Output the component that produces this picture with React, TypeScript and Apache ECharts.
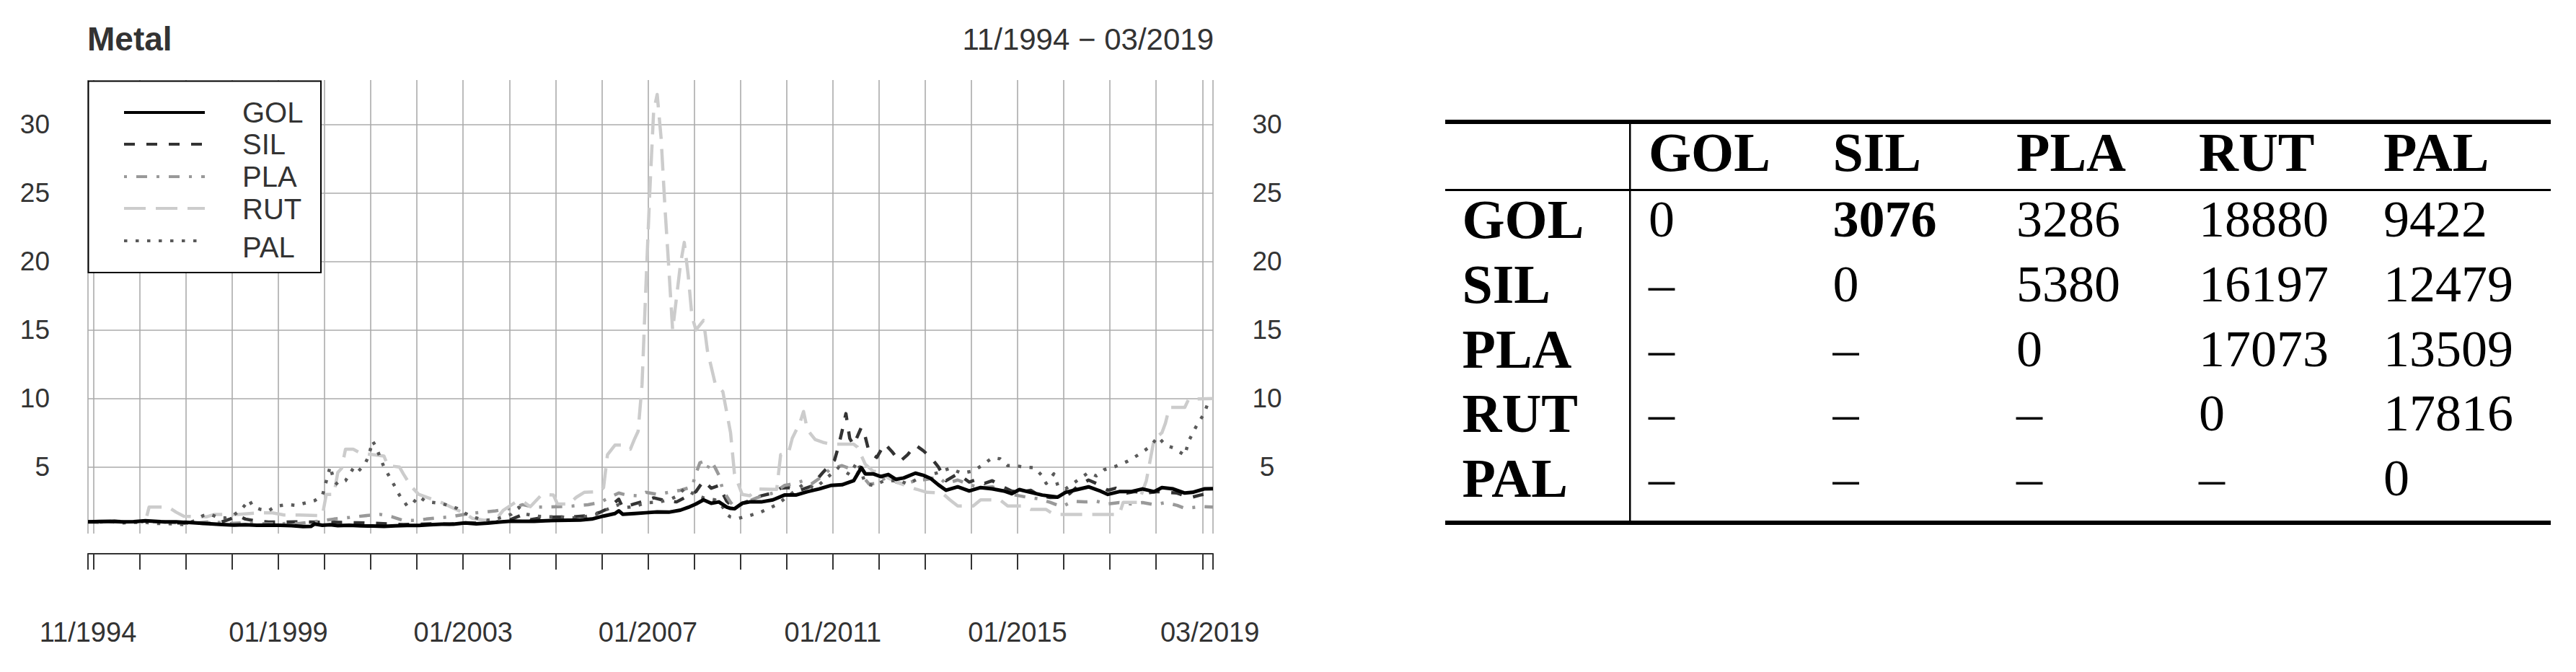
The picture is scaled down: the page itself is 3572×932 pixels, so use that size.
import React, { useEffect, useRef } from 'react';
import * as echarts from 'echarts';

// ---------------- DATA ----------------
const TITLE = 'Metal';
const SUBTITLE = '11/1994 − 03/2019';
const SERIES_NAMES = ['GOL', 'SIL', 'PLA', 'RUT', 'PAL'];
const X_START = '1994-11-18';
const X_END = '2019-03-26';
const X_TICK_LABELS = ['11/1994', '01/1999', '01/2003', '01/2007', '01/2011', '01/2015', '03/2019'];
const Y_TICKS = [5, 10, 15, 20, 25, 30];

const GOL: [string, number][] = [
  ['1994-11-18', 1.0], ['1995-02', 1.02], ['1995-05', 1.03], ['1995-08', 1.0], ['1995-11', 1.01], ['1996-02', 1.08],
  ['1996-06', 1.01], ['1996-10', 0.99], ['1997-01', 0.95], ['1997-04', 0.9], ['1997-07', 0.85], ['1997-10', 0.8],
  ['1998-01', 0.76], ['1998-04', 0.78], ['1998-07', 0.75], ['1998-10', 0.76], ['1999-01', 0.74], ['1999-04', 0.72],
  ['1999-07', 0.65], ['1999-09', 0.66], ['1999-10', 0.84], ['1999-12', 0.75], ['2000-02', 0.78], ['2000-04', 0.72],
  ['2000-07', 0.74], ['2000-10', 0.7], ['2001-01', 0.69], ['2001-04', 0.67], ['2001-07', 0.7], ['2001-10', 0.73],
  ['2002-01', 0.73], ['2002-04', 0.78], ['2002-07', 0.82], ['2002-10', 0.83], ['2003-01', 0.92], ['2003-04', 0.85],
  ['2003-07', 0.9], ['2003-10', 0.98], ['2004-01', 1.05], ['2004-04', 1.03], ['2004-07', 1.03], ['2004-10', 1.08],
  ['2005-01', 1.1], ['2005-04', 1.12], ['2005-07', 1.13], ['2005-10', 1.2], ['2006-01', 1.42], ['2006-04', 1.6],
  ['2006-05', 1.8], ['2006-06', 1.55], ['2006-09', 1.6], ['2006-12', 1.66], ['2007-03', 1.72], ['2007-06', 1.7],
  ['2007-09', 1.85], ['2007-11', 2.05], ['2008-01', 2.3], ['2008-03', 2.6], ['2008-05', 2.35], ['2008-07', 2.45],
  ['2008-09', 2.07], ['2008-10', 1.98], ['2008-11', 1.95], ['2009-01', 2.35], ['2009-03', 2.45], ['2009-06', 2.45],
  ['2009-09', 2.6], ['2009-12', 2.95], ['2010-03', 2.95], ['2010-06', 3.2], ['2010-09', 3.4], ['2010-12', 3.65],
  ['2011-03', 3.7], ['2011-06', 4.0], ['2011-08', 4.95], ['2011-09', 4.5], ['2011-11', 4.5], ['2012-01', 4.3],
  ['2012-03', 4.45], ['2012-05', 4.1], ['2012-07', 4.2], ['2012-10', 4.55], ['2012-12', 4.4], ['2013-02', 4.15],
  ['2013-04', 3.7], ['2013-06', 3.3], ['2013-09', 3.55], ['2013-12', 3.25], ['2014-03', 3.5], ['2014-06', 3.4],
  ['2014-09', 3.25], ['2014-11', 3.05], ['2015-01', 3.35], ['2015-04', 3.15], ['2015-07', 2.95], ['2015-11', 2.8],
  ['2016-01', 3.15], ['2016-04', 3.35], ['2016-07', 3.55], ['2016-10', 3.25], ['2016-12', 3.0], ['2017-03', 3.2],
  ['2017-06', 3.2], ['2017-09', 3.4], ['2017-12', 3.2], ['2018-02', 3.5], ['2018-05', 3.4], ['2018-08', 3.1],
  ['2018-10', 3.15], ['2019-01', 3.4], ['2019-03-26', 3.42],
];

const SIL: [string, number][] = [
  ['1994-11-18', 1.0], ['1995-03', 0.95], ['1995-06', 1.05], ['1995-09', 1.0], ['1996-01', 1.0], ['1996-05', 1.02],
  ['1996-09', 0.93], ['1997-01', 0.9], ['1997-05', 0.88], ['1997-09', 0.9], ['1997-12', 1.2], ['1998-02', 1.45],
  ['1998-04', 1.2], ['1998-07', 1.05], ['1998-10', 0.98], ['1999-01', 0.98], ['1999-05', 1.0], ['1999-09', 0.98],
  ['2000-01', 0.97], ['2000-05', 0.95], ['2000-09', 0.93], ['2001-01', 0.9], ['2001-05', 0.85], ['2001-09', 0.8],
  ['2002-01', 0.82], ['2002-05', 0.86], ['2002-09', 0.82], ['2003-01', 0.93], ['2003-05', 0.9], ['2003-09', 0.97],
  ['2004-01', 1.18], ['2004-04', 1.52], ['2004-06', 1.15], ['2004-09', 1.3], ['2005-01', 1.35], ['2005-05', 1.35],
  ['2005-09', 1.45], ['2005-12', 1.68], ['2006-02', 1.95], ['2006-05', 2.65], ['2006-06', 2.05], ['2006-09', 2.3],
  ['2006-12', 2.55], ['2007-02', 2.75], ['2007-05', 2.55], ['2007-08', 2.45], ['2007-10', 2.75], ['2008-01', 3.2],
  ['2008-03', 4.0], ['2008-05', 3.45], ['2008-07', 3.65], ['2008-09', 2.5], ['2008-11', 1.98], ['2009-01', 2.35],
  ['2009-03', 2.55], ['2009-06', 2.9], ['2009-09', 3.1], ['2009-11', 3.45], ['2010-01', 3.5], ['2010-04', 3.3],
  ['2010-07', 3.6], ['2010-10', 4.6], ['2011-01', 5.5], ['2011-02', 6.5], ['2011-03', 7.6], ['2011-04', 8.9],
  ['2011-05', 7.1], ['2011-06', 6.6], ['2011-08', 7.9], ['2011-09', 7.2], ['2011-10', 6.1], ['2011-12', 5.7],
  ['2012-02', 6.7], ['2012-04', 6.1], ['2012-06', 5.4], ['2012-08', 5.9], ['2012-10', 6.6], ['2012-12', 6.2],
  ['2013-02', 5.7], ['2013-04', 5.0], ['2013-06', 4.0], ['2013-09', 4.5], ['2013-12', 3.9], ['2014-02', 4.1],
  ['2014-04', 3.8], ['2014-06', 4.0], ['2014-08', 3.65], ['2014-11', 3.25], ['2015-01', 3.15], ['2015-04', 3.3],
  ['2015-06', 2.95], ['2015-09', 2.77], ['2015-12', 2.8], ['2016-02', 3.05], ['2016-04', 3.55], ['2016-07', 4.05],
  ['2016-09', 3.8], ['2016-12', 3.3], ['2017-02', 3.45], ['2017-05', 3.1], ['2017-07', 3.2], ['2017-10', 3.1],
  ['2018-01', 3.2], ['2018-03', 3.15], ['2018-06', 3.1], ['2018-08', 2.9], ['2018-10', 2.8], ['2018-12', 2.95],
  ['2019-02', 3.05], ['2019-03-26', 2.95],
];

const PLA: [string, number][] = [
  ['1994-11-18', 1.0], ['1995-03', 0.98], ['1995-07', 1.03], ['1995-11', 1.0], ['1996-03', 1.02], ['1996-07', 0.97],
  ['1996-11', 0.92], ['1997-03', 0.9], ['1997-06', 0.98], ['1997-09', 0.95], ['1997-12', 0.88], ['1998-03', 0.92],
  ['1998-06', 0.9], ['1998-09', 0.85], ['1998-12', 0.85], ['1999-03', 0.88], ['1999-06', 0.88], ['1999-09', 0.98],
  ['1999-12', 1.08], ['2000-03', 1.2], ['2000-06', 1.28], ['2000-09', 1.38], ['2000-12', 1.47], ['2001-03', 1.54],
  ['2001-06', 1.37], ['2001-09', 1.1], ['2001-12', 1.1], ['2002-03', 1.2], ['2002-06', 1.28], ['2002-09', 1.36],
  ['2002-12', 1.5], ['2003-03', 1.63], ['2003-06', 1.7], ['2003-09', 1.8], ['2004-01', 1.98], ['2004-04', 2.25],
  ['2004-07', 2.07], ['2004-10', 2.08], ['2005-01', 2.1], ['2005-05', 2.15], ['2005-09', 2.25], ['2005-12', 2.4],
  ['2006-02', 2.7], ['2006-05', 3.1], ['2006-07', 2.95], ['2006-10', 2.9], ['2006-12', 3.15], ['2007-03', 3.0],
  ['2007-06', 3.15], ['2007-09', 3.3], ['2007-12', 3.55], ['2008-01', 4.5], ['2008-02', 5.3], ['2008-03', 5.4],
  ['2008-04', 4.9], ['2008-05', 5.4], ['2008-06', 4.95], ['2008-07', 4.4], ['2008-08', 3.3], ['2008-10', 2.42],
  ['2008-11', 2.07], ['2008-12', 2.15], ['2009-02', 2.42], ['2009-05', 2.77], ['2009-09', 3.1], ['2009-12', 3.65],
  ['2010-02', 3.75], ['2010-05', 4.0], ['2010-07', 3.75], ['2010-10', 4.35], ['2010-12', 4.88], ['2011-03', 5.1],
  ['2011-05', 4.88], ['2011-08', 4.44], ['2011-10', 3.75], ['2011-12', 3.8], ['2012-03', 4.35], ['2012-05', 3.9],
  ['2012-07', 3.74], ['2012-10', 4.0], ['2013-01', 4.1], ['2013-04', 4.26], ['2013-06', 3.8], ['2013-09', 4.05],
  ['2013-12', 3.7], ['2014-03', 3.5], ['2014-06', 3.55], ['2014-09', 3.3], ['2014-12', 2.95], ['2015-03', 2.8],
  ['2015-06', 2.68], ['2015-09', 2.42], ['2015-12', 2.1], ['2016-03', 2.5], ['2016-06', 2.45], ['2016-09', 2.5],
  ['2016-12', 2.3], ['2017-03', 2.4], ['2017-06', 2.3], ['2017-09', 2.4], ['2017-12', 2.25], ['2018-03', 2.4],
  ['2018-06', 2.2], ['2018-08', 1.98], ['2018-11', 2.07], ['2019-01', 2.1], ['2019-03-26', 2.07],
];

const RUT: [string, number][] = [
  ['1994-11-18', 1.0], ['1996-02', 1.0], ['1996-03', 2.07], ['1996-08', 2.07], ['1996-10', 1.7], ['1996-12', 1.4],
  ['1997-06', 1.37], ['1997-08', 1.54], ['1998-02', 1.54], ['1998-07', 1.65], ['1998-11', 1.65], ['1999-02', 1.5],
  ['1999-06', 1.5], ['1999-12', 1.45], ['2000-01', 3.0], ['2000-03', 3.0], ['2000-04', 4.6], ['2000-05', 4.9],
  ['2000-06', 6.3], ['2000-08', 6.3], ['2000-10', 6.0], ['2001-01', 5.9], ['2001-04', 5.8], ['2001-05', 5.1],
  ['2001-08', 5.0], ['2001-09', 4.5], ['2001-11', 3.6], ['2002-01', 3.0], ['2002-04', 2.7], ['2002-07', 2.4],
  ['2002-10', 2.0], ['2003-01', 1.6], ['2003-03', 1.25], ['2003-06', 1.12], ['2003-09', 1.15], ['2003-11', 1.85],
  ['2004-02', 2.4], ['2004-04', 2.5], ['2004-06', 2.1], ['2004-09', 3.0], ['2004-12', 2.95], ['2005-01', 2.3],
  ['2005-04', 2.3], ['2005-06', 2.8], ['2005-08', 3.15], ['2005-12', 3.2], ['2006-01', 3.5], ['2006-02', 5.9],
  ['2006-04', 6.6], ['2006-06', 6.6], ['2006-08', 6.3], ['2006-09', 7.0], ['2006-10', 7.6], ['2006-11', 11.0],
  ['2006-12', 18.0], ['2007-01', 25.0], ['2007-02', 31.0], ['2007-03', 32.2], ['2007-04', 29.0], ['2007-05', 24.0],
  ['2007-06', 19.5], ['2007-07', 15.0], ['2007-08', 17.4], ['2007-09', 19.8], ['2007-10', 21.4], ['2007-11', 19.0],
  ['2007-12', 16.0], ['2008-01', 15.0], ['2008-03', 15.7], ['2008-04', 13.5], ['2008-06', 11.1], ['2008-08', 10.5],
  ['2008-10', 7.5], ['2008-11', 4.5], ['2009-01', 3.0], ['2009-03', 2.9], ['2009-05', 3.4], ['2009-10', 3.36],
  ['2009-11', 5.9], ['2010-01', 6.0], ['2010-02', 7.1], ['2010-04', 8.2], ['2010-05', 9.05], ['2010-06', 7.7],
  ['2010-08', 7.0], ['2010-10', 6.8], ['2010-12', 6.67], ['2011-06', 6.67], ['2011-07', 6.45], ['2011-09', 5.2],
  ['2011-11', 4.7], ['2012-01', 4.6], ['2012-03', 4.2], ['2012-06', 3.8], ['2012-10', 3.4], ['2013-01', 3.15],
  ['2013-05', 3.1], ['2013-07', 2.6], ['2013-09', 2.15], ['2014-01', 2.15], ['2014-03', 2.6], ['2014-08', 2.6],
  ['2014-10', 2.15], ['2015-02', 2.15], ['2015-04', 1.9], ['2015-08', 1.9], ['2015-10', 1.54], ['2017-03', 1.54],
  ['2017-04', 2.42], ['2017-08', 2.42], ['2017-10', 4.0], ['2017-12', 7.0], ['2018-02', 7.5], ['2018-03', 8.2],
  ['2018-04', 9.35], ['2018-08', 9.35], ['2018-09', 9.96], ['2019-03-26', 10.0],
];

const PAL: [string, number][] = [
  ['1994-11-18', 1.0], ['1995-02', 0.98], ['1995-05', 1.02], ['1995-08', 0.92], ['1995-11', 0.95], ['1996-02', 0.95],
  ['1996-05', 0.88], ['1996-09', 0.85], ['1996-12', 0.8], ['1997-03', 1.1], ['1997-05', 1.45], ['1997-07', 1.54],
  ['1997-09', 1.3], ['1997-11', 1.28], ['1998-01', 1.5], ['1998-03', 1.9], ['1998-05', 2.6], ['1998-06', 2.1],
  ['1998-08', 1.9], ['1998-10', 1.8], ['1998-12', 2.15], ['1999-03', 2.25], ['1999-05', 2.2], ['1999-08', 2.4],
  ['1999-10', 2.55], ['1999-12', 2.9], ['2000-02', 5.05], ['2000-03', 4.0], ['2000-04', 3.7], ['2000-06', 4.0],
  ['2000-08', 4.9], ['2000-09', 4.6], ['2000-11', 5.2], ['2000-12', 5.8], ['2001-01', 6.9], ['2001-02', 6.4],
  ['2001-03', 5.7], ['2001-04', 5.0], ['2001-06', 4.0], ['2001-07', 3.5], ['2001-08', 2.95], ['2001-10', 2.16],
  ['2001-11', 2.2], ['2002-01', 2.86], ['2002-03', 2.46], ['2002-05', 2.4], ['2002-07', 2.33], ['2002-09', 2.16],
  ['2002-11', 1.98], ['2003-01', 1.63], ['2003-03', 1.37], ['2003-05', 1.2], ['2003-07', 1.12], ['2003-09', 1.2],
  ['2003-11', 1.35], ['2004-01', 1.54], ['2004-03', 2.05], ['2004-05', 1.55], ['2004-08', 1.4], ['2004-11', 1.37],
  ['2005-02', 1.35], ['2005-05', 1.28], ['2005-08', 1.37], ['2005-11', 1.54], ['2006-01', 1.8], ['2006-05', 2.25],
  ['2006-07', 2.05], ['2006-09', 2.1], ['2006-12', 2.4], ['2007-03', 2.42], ['2007-06', 2.6], ['2007-08', 2.85],
  ['2007-10', 3.4], ['2008-01', 2.95], ['2008-03', 2.75], ['2008-06', 2.6], ['2008-08', 2.07], ['2008-09', 1.54],
  ['2008-10', 1.35], ['2008-12', 1.25], ['2009-03', 1.45], ['2009-06', 1.72], ['2009-10', 2.25], ['2010-02', 3.1],
  ['2010-05', 3.75], ['2010-08', 3.45], ['2010-11', 4.2], ['2011-02', 4.95], ['2011-05', 4.45], ['2011-07', 5.4],
  ['2011-09', 3.8], ['2011-11', 3.65], ['2012-02', 4.0], ['2012-06', 4.0], ['2012-08', 3.75], ['2012-11', 4.2],
  ['2013-01', 4.35], ['2013-04', 4.6], ['2013-07', 4.9], ['2013-10', 4.55], ['2014-01', 4.7], ['2014-03', 5.05],
  ['2014-06', 5.67], ['2014-08', 5.6], ['2014-10', 5.1], ['2014-12', 5.1], ['2015-02', 5.0], ['2015-05', 4.95],
  ['2015-07', 4.35], ['2015-08', 3.8], ['2015-10', 4.5], ['2015-11', 3.65], ['2016-01', 3.4], ['2016-03', 3.8],
  ['2016-07', 4.6], ['2016-09', 4.35], ['2016-11', 4.8], ['2017-02', 5.05], ['2017-05', 5.4], ['2017-08', 5.9],
  ['2017-11', 6.5], ['2018-01', 7.2], ['2018-03', 6.6], ['2018-05', 6.4], ['2018-08', 5.85], ['2018-09', 6.9],
  ['2018-11', 8.0], ['2019-01', 8.9], ['2019-02', 9.7], ['2019-03-26', 9.8],
];

const TABLE_COLS = ['GOL', 'SIL', 'PLA', 'RUT', 'PAL'];
const TABLE_ROWS = ['GOL', 'SIL', 'PLA', 'RUT', 'PAL'];
const TABLE_VALUES: string[][] = [
  ['0', '3076', '3286', '18880', '9422'],
  ['–', '0', '5380', '16197', '12479'],
  ['–', '–', '0', '17073', '13509'],
  ['–', '–', '–', '0', '17816'],
  ['–', '–', '–', '–', '0'],
];
const TABLE_BOLD_CELLS: [number, number][] = [[0, 1]];

// ---------------- STYLE ----------------
const SANS = '"Liberation Sans", Arial, Helvetica, sans-serif';
const SERIF = '"Liberation Serif", "Times New Roman", serif';
const TEXT = '#333333';
const GRID_COLOR = '#ababab';
const LINE_STYLES: Record<string, { color: string; dash: number[] | 'solid'; width: number }> = {
  GOL: { color: '#000000', dash: 'solid', width: 5 },
  SIL: { color: '#333333', dash: [15, 16], width: 4.5 },
  PLA: { color: '#999999', dash: [4, 13, 15, 13], width: 4.5 },
  RUT: { color: '#cccccc', dash: [30, 14], width: 4.5 },
  PAL: { color: '#5a5a5a', dash: [4.5, 11.5], width: 4.5 },
};
const SERIES_DATA: Record<string, [string, number][]> = { GOL, SIL, PLA, RUT, PAL };

function toTime(s: string): number {
  const p = s.split('-').map(Number);
  return Date.UTC(p[0], p[1] - 1, p.length > 2 ? p[2] : 15);
}

export default function App() {
  const ref = useRef<HTMLDivElement>(null);

  useEffect(() => {
    if (!ref.current) return;
    const chart = echarts.init(ref.current, undefined, { renderer: 'svg' });

    const xMin = toTime(X_START);
    const xMax = toTime(X_END);
    const yearTicks: number[] = [];
    for (let y = 1995; y <= 2019; y++) yearTicks.push(Date.UTC(y, 0, 1));
    const xTickValues = [xMin, ...yearTicks, xMax];
    const labelValues = X_TICK_LABELS.map((l) => {
      const [m, y] = l.split('/').map(Number);
      const t = Date.UTC(y, m - 1, 1);
      return Math.min(Math.max(t, xMin), xMax);
    });
    const labelFor = (v: number) => {
      for (let i = 0; i < labelValues.length; i++) {
        if (Math.abs(labelValues[i] - v) < 86400000) return X_TICK_LABELS[i];
      }
      return '';
    };

    const yMin = 0.14;
    const yMax = 33.25;

    const drawOrder = ['SIL', 'PLA', 'RUT', 'PAL', 'GOL'];
    const series = drawOrder.map((name) => ({
      name,
      type: 'line',
      data: SERIES_DATA[name].map(([d, v]) => [toTime(d), v]),
      showSymbol: false,
      symbol: 'none',
      smooth: false,
      lineStyle: {
        color: LINE_STYLES[name].color,
        width: LINE_STYLES[name].width,
        type: LINE_STYLES[name].dash,
        cap: 'butt',
        join: 'round',
      },
      emphasis: { disabled: true },
      z: 3,
    }));

    // legend (drawn as graphic)
    const legLineY = [156, 200, 245, 289, 334];
    const legTextY = [156, 200, 245, 290, 343];
    const legend: any[] = [
      {
        type: 'rect',
        shape: { x: 122.5, y: 112.5, width: 322.5, height: 265.5 },
        style: { fill: '#ffffff', stroke: '#000000', lineWidth: 2 },
        z: 50,
      },
    ];
    SERIES_NAMES.forEach((name, i) => {
      const st = LINE_STYLES[name];
      const lineStyle: any = { stroke: st.color, lineWidth: 4, lineCap: 'butt' };
      if (st.dash !== 'solid') lineStyle.lineDash = st.dash;
      legend.push({
        type: 'line',
        shape: { x1: 172, y1: legLineY[i], x2: 284, y2: legLineY[i] },
        style: lineStyle,
        z: 51,
      });
      legend.push({
        type: 'text',
        x: 336,
        y: legTextY[i],
        style: { text: name, fontSize: 40, fontFamily: SANS, fill: TEXT, verticalAlign: 'middle', align: 'left' },
        z: 51,
      });
    });

    // table (drawn as graphic)
    const colX = [2286, 2541.5, 2796, 3049, 3305];
    const rowY = [304, 393.5, 483.5, 572.5, 662.5];
    const headerY = 210.5;
    const rowLabelX = 2027.5;
    const table: any[] = [
      { type: 'rect', shape: { x: 2004, y: 166, width: 1533, height: 6 }, style: { fill: '#000' }, z: 50 },
      { type: 'rect', shape: { x: 2004, y: 262, width: 1533, height: 3 }, style: { fill: '#000' }, z: 50 },
      { type: 'rect', shape: { x: 2004, y: 722, width: 1533, height: 6 }, style: { fill: '#000' }, z: 50 },
      { type: 'rect', shape: { x: 2259, y: 169, width: 2.5, height: 556 }, style: { fill: '#000' }, z: 50 },
    ];
    TABLE_COLS.forEach((c, j) => {
      table.push({
        type: 'text',
        x: colX[j],
        y: headerY,
        style: { text: c, fontSize: 76, fontWeight: 'bold', fontFamily: SERIF, fill: '#000', verticalAlign: 'middle' },
        z: 51,
      });
    });
    TABLE_ROWS.forEach((r, i) => {
      table.push({
        type: 'text',
        x: rowLabelX,
        y: rowY[i],
        style: { text: r, fontSize: 76, fontWeight: 'bold', fontFamily: SERIF, fill: '#000', verticalAlign: 'middle' },
        z: 51,
      });
      TABLE_VALUES[i].forEach((v, j) => {
        const bold = TABLE_BOLD_CELLS.some(([a, b]) => a === i && b === j);
        table.push({
          type: 'text',
          x: colX[j],
          y: rowY[i],
          style: {
            text: v,
            fontSize: 72,
            fontWeight: bold ? 'bold' : 'normal',
            fontFamily: SERIF,
            fill: '#000',
            verticalAlign: 'middle',
          },
          z: 51,
        });
      });
    });

    const titles: any[] = [
      {
        type: 'text',
        x: 121,
        y: 54,
        style: { text: TITLE, fontSize: 46, fontWeight: 'bold', fontFamily: SANS, fill: TEXT, verticalAlign: 'middle' },
        z: 51,
      },
      {
        type: 'text',
        x: 1683,
        y: 54,
        style: { text: SUBTITLE, fontSize: 42, fontFamily: SANS, fill: TEXT, verticalAlign: 'middle', align: 'right' },
        z: 51,
      },
    ];

    const option: any = {
      animation: false,
      backgroundColor: '#ffffff',
      grid: { left: 122, top: 111, width: 1560, height: 629, containLabel: false },
      xAxis: {
        type: 'value',
        min: xMin,
        max: xMax,
        offset: 28,
        axisLine: { show: true, lineStyle: { color: '#333333', width: 2 } },
        axisTick: { show: true, length: 22, inside: false, lineStyle: { color: '#333333', width: 2 }, customValues: xTickValues },
        axisLabel: {
          customValues: labelValues,
          formatter: (v: number) => labelFor(v),
          fontSize: 38,
          color: TEXT,
          fontFamily: SANS,
          margin: 90,
        },
        splitLine: { show: true, lineStyle: { color: GRID_COLOR, width: 1.6 } },
        minorTick: { show: false },
      },
      yAxis: [
        {
          type: 'value',
          position: 'left',
          min: yMin,
          max: yMax,
          axisLine: { show: false },
          axisTick: { show: false, customValues: Y_TICKS },
          axisLabel: { customValues: Y_TICKS, fontSize: 37, color: TEXT, fontFamily: SANS, margin: 53 },
          splitLine: { show: true, lineStyle: { color: GRID_COLOR, width: 1.6 } },
        },
        {
          type: 'value',
          position: 'right',
          min: yMin,
          max: yMax,
          axisLine: { show: false },
          axisTick: { show: false, customValues: Y_TICKS },
          axisLabel: { customValues: Y_TICKS, fontSize: 37, color: TEXT, fontFamily: SANS, margin: 75, align: 'center' },
          splitLine: { show: false },
        },
      ],
      series,
      graphic: [...legend, ...table, ...titles],
    };

    chart.setOption(option);
    return () => chart.dispose();
  }, []);

  return (
    <div
      ref={ref}
      style={{ position: 'absolute', left: 0, top: 0, width: 3572, height: 932 }}
    />
  );
}
